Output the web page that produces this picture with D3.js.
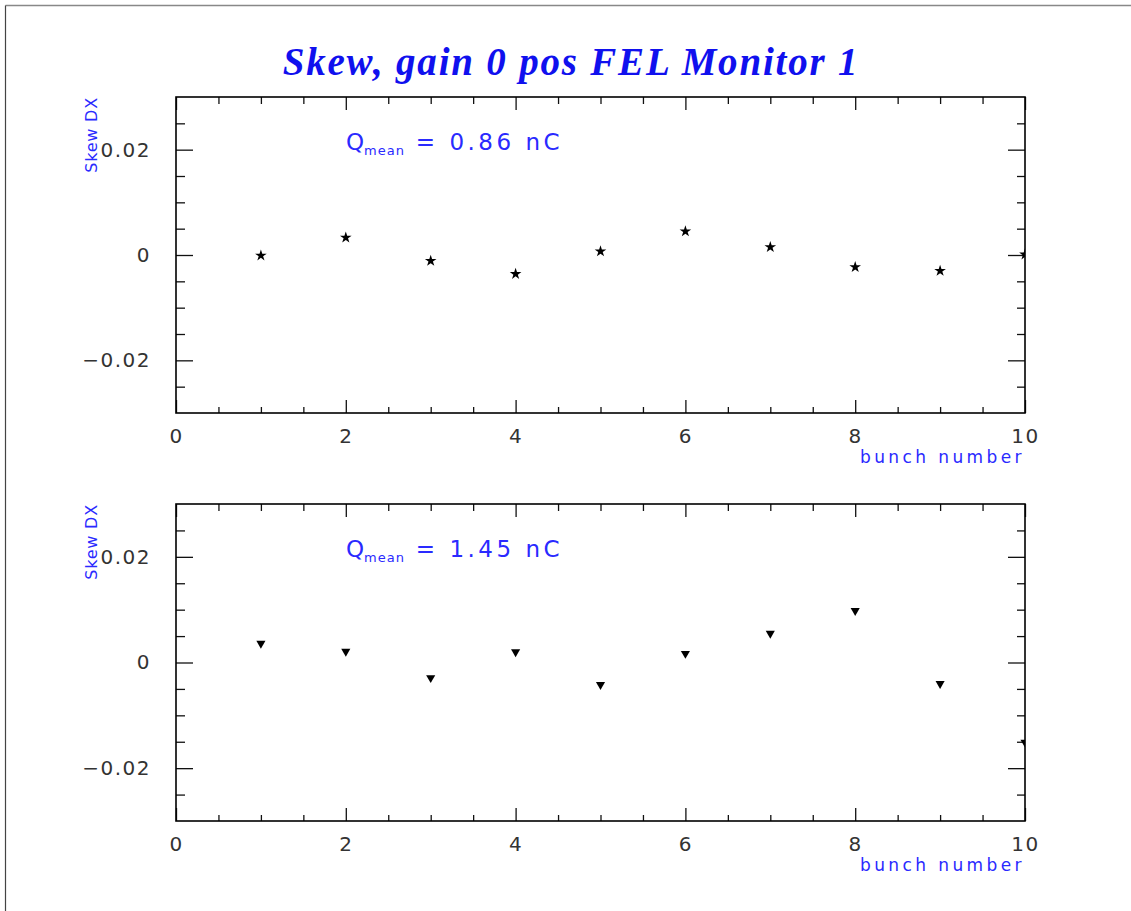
<!DOCTYPE html>
<html><head><meta charset="utf-8">
<script src="https://cdn.jsdelivr.net/npm/d3@7"></script>
<style>
body{margin:0;background:#fff;}
svg{display:block;}
.tick text{font-family:"DejaVu Sans",sans-serif;}
</style></head>
<body>
<script>
const bunches = [1,2,3,4,5,6,7,8,9,10];
const skewLow = [-0.0001,0.0033,-0.0011,-0.0036,0.0007,0.0045,0.0015,-0.0023,-0.003,0.0001];
const skewHigh = [0.0036,0.0021,-0.0029,0.002,-0.0042,0.0017,0.0055,0.0098,-0.004,-0.0151];
const qMeans = ["0.86","1.45"];
const xMajor = [0,2,4,6,8,10];
const xTickLabels = ["0","2","4","6","8","10"];
const yMajor = [-0.02,0,0.02];
const yTickLabels = ["\u22120.02","0","0.02"];
const titleText = "Skew, gain 0 pos FEL Monitor 1";
const yLabel = "Skew DX";
const xLabel = "bunch number";

const W=1131,H=911;
const svg=d3.select("body").append("svg").attr("width",W).attr("height",H);
svg.append("line").attr("x1",5.5).attr("x2",1131).attr("y1",5.5).attr("y2",5.5).attr("stroke","#888").attr("stroke-width",1.5);
svg.append("line").attr("x1",5.5).attr("x2",5.5).attr("y1",5.5).attr("y2",911).attr("stroke","#444").attr("stroke-width",1.2);

svg.append("text").attr("x",571).attr("y",75).attr("text-anchor","middle")
  .attr("font-family","Liberation Serif, serif").attr("font-weight","bold").attr("font-style","italic")
  .attr("font-size",39).attr("letter-spacing",1.8).attr("fill","#1010ee").text(titleText);

const L=176,R=1025;
const panels=[{top:97,bottom:413,data:skewLow,sym:d3.symbolStar,rot:0,q:qMeans[0]},
              {top:504,bottom:821,data:skewHigh,sym:d3.symbolTriangle,rot:180,q:qMeans[1]}];
const xMinor=d3.range(0,10.01,0.5).filter(v=>!xMajor.includes(v));
const yMinor=d3.range(-0.03,0.0301,0.005).map(v=>+v.toFixed(3)).filter(v=>!yMajor.includes(v)&&Math.abs(v)<0.0299);

panels.forEach((p,i)=>{
  const x=d3.scaleLinear().domain([0,10]).range([L,R]);
  const y=d3.scaleLinear().domain([-0.03,0.03]).range([p.bottom,p.top]);
  const g=svg.append("g");
  const styleAxis=sel=>{sel.select(".domain").remove();sel.selectAll(".tick line").attr("stroke","#111").attr("stroke-width",1.3);};
  // bottom
  g.append("g").attr("transform",`translate(0,${p.bottom})`)
    .call(d3.axisBottom(x).tickValues(xMajor).tickSize(-13).tickPadding(12).tickFormat((d,k)=>xTickLabels[k]))
    .call(styleAxis).call(s=>s.selectAll(".tick text").attr("font-size",20).attr("fill","#333").attr("letter-spacing",1.5).attr("dy","0.9em"));
  g.append("g").attr("transform",`translate(0,${p.bottom})`)
    .call(d3.axisBottom(x).tickValues(xMinor).tickSize(-6).tickFormat("")).call(styleAxis);
  // top
  g.append("g").attr("transform",`translate(0,${p.top})`)
    .call(d3.axisTop(x).tickValues(xMajor).tickSize(-13).tickFormat("")).call(styleAxis);
  g.append("g").attr("transform",`translate(0,${p.top})`)
    .call(d3.axisTop(x).tickValues(xMinor).tickSize(-7).tickFormat("")).call(styleAxis);
  // left
  g.append("g").attr("transform",`translate(${L},0)`)
    .call(d3.axisLeft(y).tickValues(yMajor).tickSize(-17).tickPadding(25).tickFormat((d,k)=>yTickLabels[k]))
    .call(styleAxis).call(s=>s.selectAll(".tick text").attr("font-size",20).attr("fill","#333").attr("letter-spacing",1.5));
  g.append("g").attr("transform",`translate(${L},0)`)
    .call(d3.axisLeft(y).tickValues(yMinor).tickSize(-9).tickFormat("")).call(styleAxis);
  // right
  g.append("g").attr("transform",`translate(${R},0)`)
    .call(d3.axisRight(y).tickValues(yMajor).tickSize(-17).tickFormat("")).call(styleAxis);
  g.append("g").attr("transform",`translate(${R},0)`)
    .call(d3.axisRight(y).tickValues(yMinor).tickSize(-8).tickFormat("")).call(styleAxis);
  // frame
  g.append("rect").attr("x",L).attr("y",p.top).attr("width",R-L).attr("height",p.bottom-p.top)
    .attr("fill","none").attr("stroke","#000").attr("stroke-width",1.6);
  // clip + points
  const cid="clip"+i;
  svg.append("clipPath").attr("id",cid).append("rect").attr("x",L).attr("y",p.top).attr("width",R-L).attr("height",p.bottom-p.top);
  g.append("g").attr("clip-path",`url(#${cid})`).selectAll("path").data(bunches).join("path")
    .attr("d",d3.symbol().type(p.sym).size(p.rot?36:42))
    .attr("transform",(d,k)=>`translate(${x(d)},${y(p.data[k])}) rotate(${p.rot})`)
    .attr("fill","#000");
  // labels
  g.append("text").attr("transform",`translate(97,${p.top}) rotate(-90)`).attr("text-anchor","end")
    .attr("font-family","DejaVu Sans, sans-serif").attr("font-size",16).attr("letter-spacing",0.8).attr("fill","#2a2aff").text(yLabel);
  g.append("text").attr("x",R).attr("y",p.bottom+50).attr("text-anchor","end")
    .attr("font-family","DejaVu Sans, sans-serif").attr("font-size",17).attr("letter-spacing",3.4).attr("fill","#2a2aff").text(xLabel);
  const q=g.append("text").attr("x",346).attr("y",p.top+53).attr("font-family","DejaVu Sans, sans-serif").attr("fill","#2a2aff").attr("font-size",23);
  q.append("tspan").text("Q");
  q.append("tspan").attr("font-size",13).attr("dy",5).attr("letter-spacing",1).text("mean");
  q.append("tspan").attr("dy",-5).attr("letter-spacing",3.5).text(" = "+p.q+" nC");
});
</script>
</body></html>
